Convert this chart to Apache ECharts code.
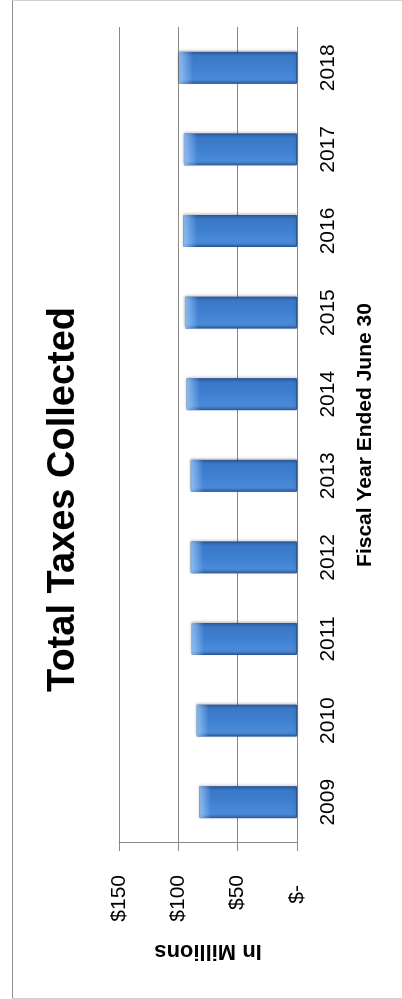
<!DOCTYPE html>
<html>
<head>
<meta charset="utf-8">
<script src="https://cdn.jsdelivr.net/npm/echarts@6/dist/echarts.min.js"></script>
<style>
  html, body { margin: 0; padding: 0; background: #fff; overflow: hidden; }
  /* the chart is drawn upright, then turned a quarter turn to the left */
  #main {
    position: absolute; left: 0; top: 0;
    width: 999px; height: 402px;
    transform-origin: 0 0;
    transform: translate(0, 999px) rotate(-90deg);
  }
</style>
</head>
<body>
<div id="main"></div>
<script>
  // fiscal years and total taxes collected (in millions)
  var years = ["2009", "2010", "2011", "2012", "2013", "2014", "2015", "2016", "2017", "2018"]
  var taxes = [82.4, 84.6, 88.8, 89.6, 89.6, 93.0, 94.4, 95.9, 95.3, 99.5]
  var valueTicks = [0, 50, 100, 150]
  var valueLabels = ["$-", "$50", "$100", "$150"]

  var chart = echarts.init(document.getElementById("main"))
  var font = "Liberation Sans"

  var option = {
    animation: false,
    title: {
      text: "Total Taxes Collected",
      left: "center",
      top: 40,
      textStyle: { fontFamily: font, fontSize: 38, fontWeight: "bold", color: "#000" }
    },
    grid: { left: 156, right: 27, top: 119, bottom: 105, outerBoundsMode: "none" },
    xAxis: {
      type: "category",
      data: years,
      name: "Fiscal Year Ended June 30",
      nameLocation: "middle",
      nameGap: 58,
      nameTextStyle: { fontFamily: font, fontSize: 21, fontWeight: "bold", color: "#000" },
      axisLine: { lineStyle: { color: "#888888", width: 1 } },
      axisTick: { show: false },
      axisLabel: { fontFamily: font, fontSize: 21, color: "#000", margin: 21 }
    },
    yAxis: {
      type: "value",
      min: valueTicks[0],
      max: valueTicks[valueTicks.length - 1],
      interval: 50,
      name: "In Millions",
      nameLocation: "middle",
      nameGap: 97,
      nameTextStyle: { fontFamily: font, fontSize: 22, fontWeight: "bold", color: "#000" },
      axisLine: { show: true, lineStyle: { color: "#888888", width: 1 } },
      axisTick: { show: true, length: 8, lineStyle: { color: "#888888" } },
      splitLine: { lineStyle: { color: "#888888", width: 1 } },
      axisLabel: {
        fontFamily: font, fontSize: 21, color: "#000", margin: 32,
        formatter: function (v) {
          var i = valueTicks.indexOf(v)
          if (v === 0) return "{z|" + valueLabels[i] + "}"
          return valueLabels[i]
        },
        rich: { z: { fontFamily: font, fontSize: 21, color: "#000", padding: [0, 10, 0, 0] } }
      }
    },
    series: [
      {
        type: "bar",
        data: taxes,
        barWidth: 32,
        itemStyle: {
          borderColor: "#2b5797",
          borderWidth: 1,
          shadowColor: "rgba(0,0,0,0.25)",
          shadowBlur: 3,
          shadowOffsetX: 1,
          color: new echarts.graphic.LinearGradient(0, 0, 1, 0, [
            { offset: 0, color: "#3266ad" },
            { offset: 0.12, color: "#4b8bd9" },
            { offset: 0.5, color: "#3f80d1" },
            { offset: 0.88, color: "#3a77c6" },
            { offset: 1, color: "#2a5a9c" }
          ])
        }
      },
      {
        // light bevel at the end of each bar
        type: "bar",
        data: taxes,
        barWidth: 32,
        barGap: "-100%",
        silent: true,
        itemStyle: {
          color: new echarts.graphic.LinearGradient(0, 0, 0, 1, [
            { offset: 0, color: "rgba(170,210,255,0.75)" },
            { offset: 0.08, color: "rgba(170,210,255,0.25)" },
            { offset: 0.12, color: "rgba(170,210,255,0)" },
            { offset: 1, color: "rgba(170,210,255,0)" }
          ])
        }
      }
    ],
    graphic: [
      { type: "line", shape: { x1: 0, y1: 12.5, x2: 999, y2: 12.5 }, style: { stroke: "#8f8f8f", lineWidth: 1 } },
      { type: "line", shape: { x1: 0.5, y1: 12, x2: 0.5, y2: 402 }, style: { stroke: "#d0d0d0", lineWidth: 1 } },
      { type: "line", shape: { x1: 998.5, y1: 12, x2: 998.5, y2: 402 }, style: { stroke: "#d0d0d0", lineWidth: 1 } }
    ]
  }

  chart.setOption(option)
</script>
</body>
</html>
